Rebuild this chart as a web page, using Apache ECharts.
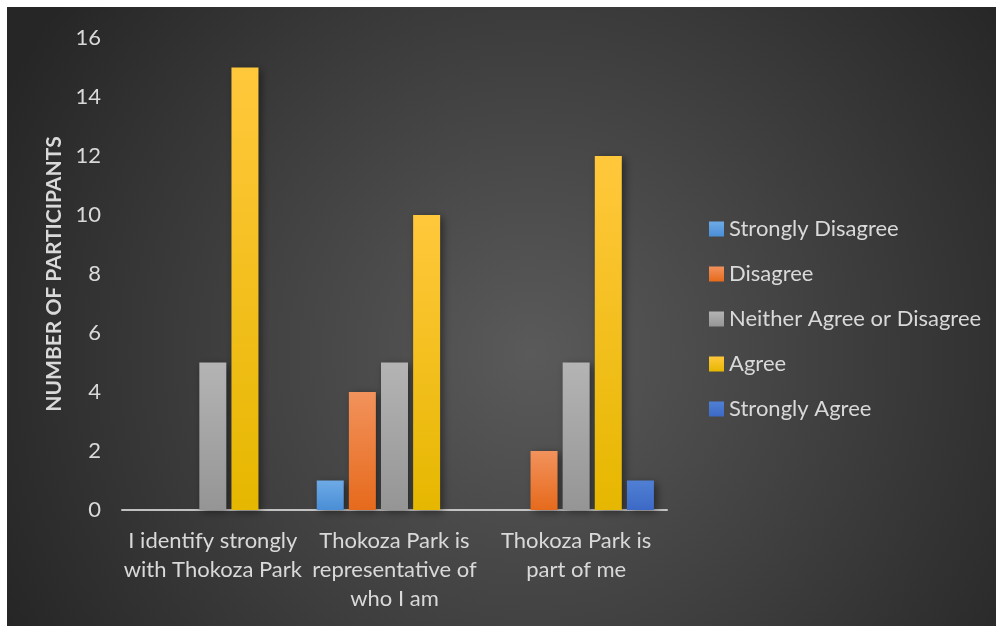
<!DOCTYPE html>
<html>
<head>
<meta charset="utf-8">
<script src="https://cdn.jsdelivr.net/npm/echarts@6/dist/echarts.min.js"></script>
<style>
  html, body { margin: 0; padding: 0; background: #ffffff; }
  #chart { width: 996px; height: 626px; }
</style>
</head>
<body>
<div id="chart"></div>
<script>
// Survey statements (x-axis categories)
const statements = [
  'I identify strongly\nwith Thokoza Park',
  'Thokoza Park is\nrepresentative of\nwho I am',
  'Thokoza Park is\npart of me'
];

// Responses per answer option
const stronglyDisagree = [0, 1, 0];
const disagree = [0, 4, 2];
const neither = [5, 5, 5];
const agree = [15, 10, 12];
const stronglyAgree = [0, 0, 1];

const seriesNames = ['Strongly Disagree', 'Disagree', 'Neither Agree or Disagree', 'Agree', 'Strongly Agree'];
const seriesValues = [stronglyDisagree, disagree, neither, agree, stronglyAgree];

const yTicks = { min: 0, max: 16, interval: 2 };

function vgrad(top, bottom) {
  return new echarts.graphic.LinearGradient(0, 0, 0, 1, [
    { offset: 0, color: top },
    { offset: 1, color: bottom }
  ]);
}

const palette = [
  ['#6eaae6', '#4a8ed6'],
  ['#f2925c', '#e66a1c'],
  ['#b4b4b4', '#959595'],
  ['#ffc83c', '#e6b700'],
  ['#5080d4', '#3c69c6']
];

const FONT = 'Lato, "Open Sans", sans-serif';
const TEXT = '#d9d9d9';

const chart = echarts.init(document.getElementById('chart'), null, { renderer: 'canvas' });

chart.setOption({
  animation: false,
  backgroundColor: '#ffffff',
  graphic: [{
    type: 'rect',
    z: -10,
    silent: true,
    shape: { x: 7, y: 7, width: 989, height: 619 },
    style: {
      fill: {
        type: 'radial', x: 0.53, y: 0.56, r: 0.95,
        colorStops: [
          { offset: 0, color: '#5a5a5a' },
          { offset: 1, color: '#262626' }
        ]
      }
    }
  }],
  grid: { left: 122, right: 329, top: 38, bottom: 116, containLabel: false },
  legend: {
    orient: 'vertical',
    left: 709,
    top: 218,
    padding: 0,
    itemWidth: 15,
    itemHeight: 15,
    itemGap: 23,
    icon: 'rect',
    textStyle: { color: TEXT, fontSize: 22, fontFamily: FONT, lineHeight: 22, padding: [0, 0, 0, 0] },
    itemStyle: { shadowBlur: 0, shadowOffsetX: 0, shadowOffsetY: 0 },
    data: seriesNames
  },
  xAxis: {
    type: 'category',
    data: statements,
    axisLine: { show: true, lineStyle: { color: 'rgba(217,217,217,0.85)', width: 2 } },
    axisTick: { show: false },
    axisLabel: {
      color: TEXT, fontSize: 22, fontFamily: FONT, lineHeight: 29,
      margin: 16, interval: 0
    },
    splitLine: { show: false }
  },
  yAxis: {
    type: 'value',
    min: yTicks.min, max: yTicks.max, interval: yTicks.interval,
    name: 'NUMBER OF PARTICIPANTS',
    nameLocation: 'middle',
    nameGap: 55,
    nameRotate: 90,
    nameTextStyle: { color: TEXT, fontSize: 21, fontWeight: 'bold', fontFamily: FONT },
    axisLine: { show: false },
    axisTick: { show: false },
    splitLine: { show: false },
    axisLabel: { color: TEXT, fontSize: 22, fontFamily: FONT, margin: 21 }
  },
  series: seriesNames.map((name, i) => ({
    name: name,
    type: 'bar',
    data: seriesValues[i],
    barWidth: 27,
    barGap: '19%',
    itemStyle: {
      color: vgrad(palette[i][0], palette[i][1]),
      shadowColor: 'rgba(0,0,0,0.45)',
      shadowBlur: 8,
      shadowOffsetX: 3,
      shadowOffsetY: 2
    }
  }))
});
</script>
</body>
</html>
